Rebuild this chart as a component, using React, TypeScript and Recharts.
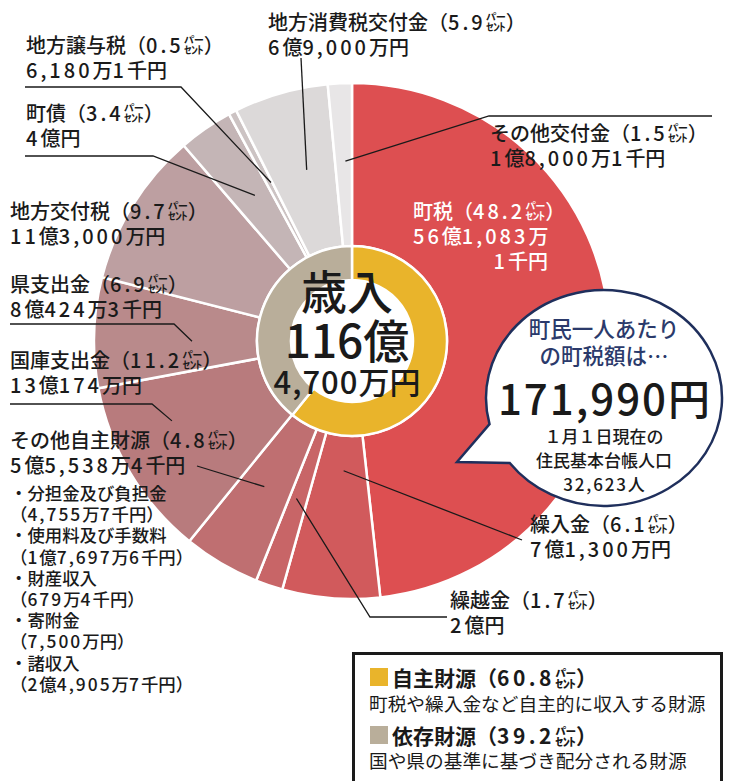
import React from "react";
import { PieChart, Pie, Cell } from "recharts";

// 歳入の内訳（外周：科目別、内側：自主財源／依存財源）
const outerNames = [
  "町税",
  "繰入金",
  "繰越金",
  "その他自主財源",
  "国庫支出金",
  "県支出金",
  "地方交付税",
  "町債",
  "地方譲与税",
  "地方消費税交付金",
  "その他交付金",
];
const outerShares = [48.2, 6.1, 1.7, 4.8, 11.2, 6.9, 9.7, 3.4, 0.5, 5.9, 1.5];
const outerAmounts = [
  "56億1,083万1千円",
  "7億1,300万円",
  "2億円",
  "5億5,538万4千円",
  "13億174万円",
  "8億424万3千円",
  "11億3,000万円",
  "4億円",
  "6,180万1千円",
  "6億9,000万円",
  "1億8,000万1千円",
];

const innerNames = ["自主財源", "依存財源"];
const innerShares = [60.8, 39.2];
const innerNotes = [
  "町税や繰入金など自主的に収入する財源",
  "国や県の基準に基づき配分される財源",
];

const subItems = ["分担金及び負担金", "使用料及び手数料", "財産収入", "寄附金", "諸収入"];
const subAmounts = ["4,755万7千円", "1億7,697万6千円", "679万4千円", "7,500万円", "2億4,905万7千円"];

const totalLines = ["歳入", "116億", "4,700万円"];
const perCapitaLines = ["町民一人あたり", "の町税額は…"];
const perCapita = "171,990円";
const populationLines = ["１月１日現在の", "住民基本台帳人口", "32,623人"];

const outerColors = [
  "#dd4f51", "#d15a5c", "#c86567", "#bf6f71", "#b87b7d", "#b98a8b",
  "#bd9fa1", "#c4b5b6", "#ccc3c3", "#dcd9d9", "#e8e6e7",
];
const innerColors = ["#e9b42b", "#b9ae9a"];

const FONT = "'Noto Sans CJK JP', 'Noto Sans', sans-serif";
const RAD = Math.PI / 180;
const CX = 347;
const CY = 336;

const outerData = outerNames.map((name, i) => ({ name, value: outerShares[i] }));
const innerData = innerNames.map((name, i) => ({ name, value: innerShares[i] }));

// text block positions (top-left) for each outer label
const labelBoxes = [
  { x: 413, y: 198 },
  { x: 530, y: 511 },
  { x: 450, y: 587 },
  { x: 10, y: 427 },
  { x: 10, y: 347 },
  { x: 10, y: 271 },
  { x: 10, y: 198 },
  { x: 26, y: 100 },
  { x: 26, y: 32 },
  { x: 268, y: 9 },
  { x: 490, y: 120 },
];

// leader lines: anchor inside the slice (radius, angle shift) then bends
const leaders: Record<number, { r: number; da: number; pts: number[][] }> = {
  1: { r: 130, da: -1, pts: [[522, 540]] },
  2: { r: 167, da: 0.7, pts: [[370, 617], [447, 617]] },
  3: { r: 170, da: 0.6, pts: [[197, 466]] },
  4: { r: 197, da: 6.8, pts: [[152, 404], [10, 404]] },
  5: { r: 160, da: -2, pts: [[174, 324], [10, 324]] },
  7: { r: 175, da: 0.9, pts: [[153, 156], [25, 156]] },
  8: { r: 178, da: 0.5, pts: [[181, 87], [25, 87]] },
  9: { r: 177, da: 1.2, pts: [[301, 58]] },
  10: { r: 180, da: 0.6, pts: [[489, 116], [712, 116]] },
};

const renderLeader = (props: any) => {
  const { cx, cy, midAngle, index } = props;
  const l = leaders[index];
  if (!l) return null;
  const a = (midAngle - l.da) * RAD;
  const p0 = [cx + l.r * Math.cos(-a), cy + l.r * Math.sin(-a)];
  const points = [p0, ...l.pts].map((p) => p.join(",")).join(" ");
  return (
    <polyline
      key={`leader-${index}`}
      points={points}
      fill="none"
      stroke="#1a1a1a"
      strokeWidth={1.3}
    />
  );
};

// the original font has wide digits: space out numeric runs
const num = (s: string, ls: number) =>
  s.split(/([0-9][0-9.,]*)/).map((part, i) =>
    /^[0-9]/.test(part) ? (
      <span key={i} style={{ letterSpacing: ls }}>
        {part}
      </span>
    ) : (
      part
    )
  );

const pct = (v: number) => `（${v.toFixed(1)}㌫）`;

function Txt({ x, y, size = 20, lh = 25, color = "#1a1a1a", weight = 500, w, align = "left", children }: any) {
  return (
    <div
      style={{
        position: "absolute",
        left: x,
        top: y,
        width: w,
        textAlign: align,
        fontSize: size,
        lineHeight: `${lh}px`,
        color,
        fontWeight: weight,
        whiteSpace: "nowrap",
      }}
    >
      {children}
    </div>
  );
}

// speech bubble outline
const BX = 604, BY = 398, BRX = 118, BRY = 108;
const onBubble = (deg: number) => [BX + BRX * Math.cos(deg * RAD), BY + BRY * Math.sin(deg * RAD)];
const [ux, uy] = onBubble(166);
const [lx, ly] = onBubble(143);
const bubblePath = `M${ux},${uy} A${BRX},${BRY} 0 1 1 ${lx},${ly} L457,462 Z`;

export default function App() {
  const taxSplit = outerAmounts[0].indexOf("万") + 1;
  return (
    <div
      style={{
        position: "absolute",
        left: 0,
        top: 0,
        width: 731,
        height: 781,
        overflow: "hidden",
        background: "#fff",
        fontFamily: FONT,
      }}
    >
      <div style={{ position: "absolute", left: 0, top: 0 }}>
        <PieChart width={731} height={781}>
          <Pie
            data={outerData}
            dataKey="value"
            cx={CX}
            cy={CY}
            innerRadius={95}
            outerRadius={258}
            startAngle={90}
            endAngle={-270}
            stroke="#fff"
            strokeWidth={2.5}
            label={renderLeader}
            labelLine={false}
            isAnimationActive={false}
          >
            {outerData.map((d, i) => (
              <Cell key={d.name} fill={outerColors[i]} />
            ))}
          </Pie>
          <Pie
            data={innerData}
            dataKey="value"
            cx={CX}
            cy={CY}
            innerRadius={61}
            outerRadius={95}
            startAngle={90}
            endAngle={-270}
            stroke="#fff"
            strokeWidth={2.5}
            isAnimationActive={false}
          >
            {innerData.map((d, i) => (
              <Cell key={d.name} fill={innerColors[i]} />
            ))}
          </Pie>
        </PieChart>
      </div>

      {/* outer labels */}
      {outerNames.map((name, i) => {
        const b = labelBoxes[i];
        if (i === 0) {
          return (
            <Txt key={name} x={b.x} y={b.y} color="#fff">
              <div>{num(name + pct(outerShares[i]), 3)}</div>
              <div>{num(outerAmounts[i].slice(0, taxSplit), 3)}</div>
              <div style={{ width: 135, textAlign: "right" }}>{num(outerAmounts[i].slice(taxSplit), 3)}</div>
            </Txt>
          );
        }
        return (
          <Txt key={name} x={b.x} y={b.y}>
            <div>{num(name + pct(outerShares[i]), 3)}</div>
            <div>{num(outerAmounts[i], 3)}</div>
          </Txt>
        );
      })}

      {/* breakdown of その他自主財源 */}
      <Txt x={10} y={482} size={17.4} lh={21.2}>
        {subItems.map((s, i) => (
          <React.Fragment key={s}>
            <div>・{s}</div>
            <div>{num(`（${subAmounts[i]}）`, 2)}</div>
          </React.Fragment>
        ))}
      </Txt>

      {/* centre total */}
      <Txt x={CX - 150} y={266} w={300} align="center" size={46} lh={47} weight={500}>
        {totalLines[0]}
      </Txt>
      <Txt x={CX - 150} y={314} w={300} align="center" size={46} lh={48} weight={500}>
        {totalLines[1]}
      </Txt>
      <Txt x={CX - 150} y={364} w={300} align="center" size={31} lh={34} weight={500}>
        {num(totalLines[2], 1)}
      </Txt>

      {/* speech bubble */}
      <svg width={731} height={781} style={{ position: "absolute", left: 0, top: 0 }}>
        <path d={bubblePath} fill="#fff" stroke="#1f2f5c" strokeWidth={2.5} strokeLinejoin="miter" />
      </svg>
      <Txt x={BX - 120} y={314} w={240} align="center" size={21.5} lh={27} color="#2b3a6b">
        {perCapitaLines.map((s) => (
          <div key={s}>{s}</div>
        ))}
      </Txt>
      <Txt x={BX - 120} y={374} w={240} align="center" size={42} lh={46} weight={500}>
        {num(perCapita, 2)}
      </Txt>
      <Txt x={BX - 120} y={424} w={240} align="center" size={17} lh={24}>
        {populationLines.map((s) => (
          <div key={s}>{num(s, 1.8)}</div>
        ))}
      </Txt>

      {/* legend */}
      <div
        style={{
          position: "absolute",
          left: 352,
          top: 652,
          width: 365,
          height: 140,
          border: "3px solid #1a1a1a",
          background: "#fff",
        }}
      />
      {innerNames.map((name, i) => (
        <React.Fragment key={name}>
          <div
            style={{
              position: "absolute",
              left: 370,
              top: 668 + i * 58,
              width: 18,
              height: 18,
              background: innerColors[i],
            }}
          />
          <Txt x={392} y={664 + i * 58} size={21} lh={26} weight={700}>
            {num(name + pct(innerShares[i]), 3.5)}
          </Txt>
          <Txt x={369} y={691 + i * 57} size={18.7} lh={24} weight={400}>
            {innerNotes[i]}
          </Txt>
        </React.Fragment>
      ))}
    </div>
  );
}
